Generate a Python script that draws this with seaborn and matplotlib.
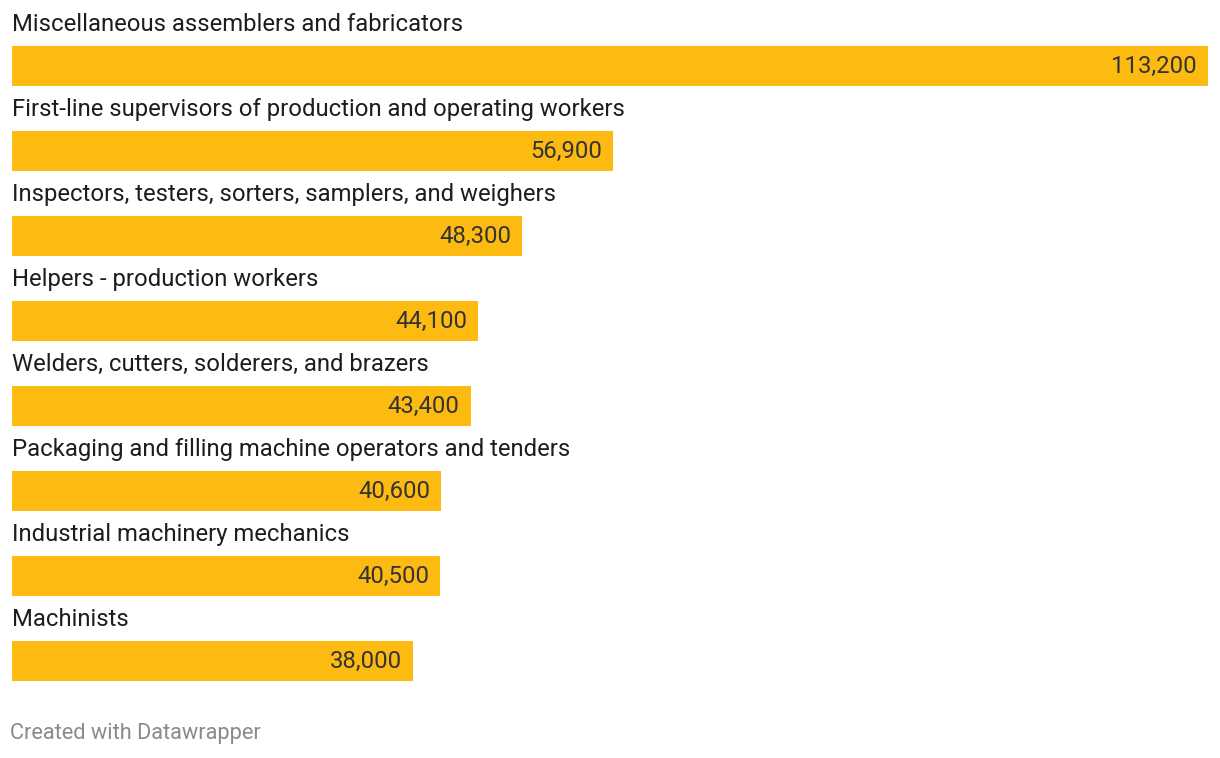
import matplotlib
matplotlib.use("Agg")
import matplotlib.pyplot as plt
import seaborn as sns
import pandas as pd

categories = [
    "Miscellaneous assemblers and fabricators",
    "First-line supervisors of production and operating workers",
    "Inspectors, testers, sorters, samplers, and weighers",
    "Helpers - production workers",
    "Welders, cutters, solderers, and brazers",
    "Packaging and filling machine operators and tenders",
    "Industrial machinery mechanics",
    "Machinists",
]
values = [113200, 56900, 48300, 44100, 43400, 40600, 40500, 38000]

df = pd.DataFrame({"occupation": categories, "jobs": values})

sns.set_theme(style="white")
plt.rcParams["font.family"] = ["Roboto", "DejaVu Sans"]

W, H = 1220, 758
fig = plt.figure(figsize=(W / 100, H / 100), dpi=100)
top_px, row_px = 23.5, 85.0
ax_h = row_px * len(categories)
ax = fig.add_axes([12 / W, (H - top_px - ax_h) / H, 1196 / W, ax_h / H])

bar_color = "#FDBB12"
sns.barplot(data=df, y="occupation", x="jobs", orient="h", color=bar_color,
            width=40 / 85, saturation=1, linewidth=0, ax=ax)

ax.set_xlim(0, values[0])
ax.set_ylim(len(categories) - 0.5, -0.5)
ax.axis("off")

pad = values[0] * 11 / 1196
for i, (c, v) in enumerate(zip(categories, values)):
    ax.text(0, i - 0.49, c, ha="left", va="center", fontsize=17.2,
            color="#1d1d1d")
    ax.text(v - pad, i + 0.01, f"{v:,}", ha="right", va="center",
            fontsize=17.2, color="#333333")

fig.text(10 / W, 1 - 733 / H, "Created with Datawrapper", ha="left",
         va="center", fontsize=15.7, color="#8a8a8a")

fig.savefig("out.png", dpi=100, facecolor="white")
